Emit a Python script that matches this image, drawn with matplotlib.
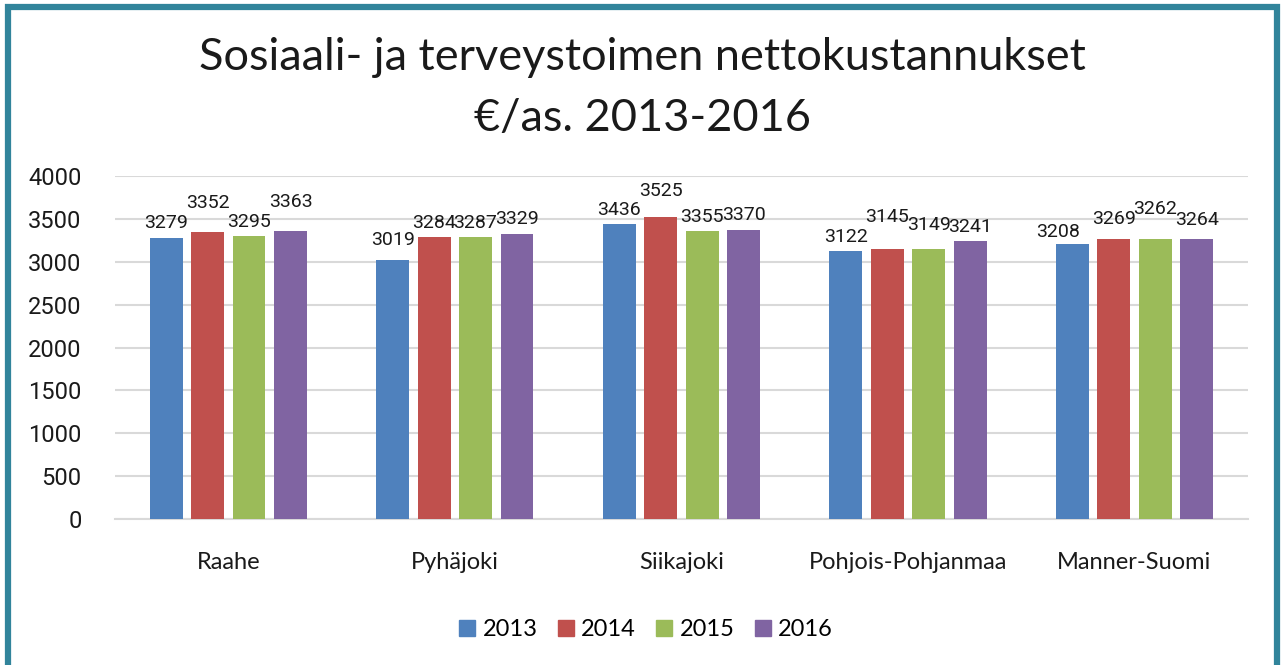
#!/usr/bin/env python3
"""Sosiaali- ja terveystoimen nettokustannukset, grouped bars per area."""

import numpy as np
import matplotlib
matplotlib.use('Agg')
import matplotlib.pyplot as plt
from matplotlib.lines import Line2D
from matplotlib.patches import Rectangle

# data
areas = ['Raahe', 'Pyhäjoki', 'Siikajoki', 'Pohjois-Pohjanmaa', 'Manner-Suomi']
years = ['2013', '2014', '2015', '2016']
v2013 = [3279, 3019, 3436, 3122, 3208]
v2014 = [3352, 3284, 3525, 3145, 3269]
v2015 = [3295, 3287, 3355, 3149, 3262]
v2016 = [3363, 3329, 3370, 3241, 3264]
series = [v2013, v2014, v2015, v2016]

COLORS = ['#4F81BD', '#C0504D', '#9BBB59', '#8064A2']
GRID = '#D9D9D9'
BORDER = '#31849B'

# Excel-ish label staggering (extra lift in points, per year then per area)
lift = [
    [0, 4, 0, 0, -2],
    [10, 0, 8, 13, 4],
    [0, 0, 0, 7, 11],
    [10, 0, 0, 0, 3],
]
shift_x = [
    [0, 0, 0, 0, -10],
    [0, 0, 0, 0, 0],
    [0, 0, 0, 0, 0],
    [0, 0, 0, 0, 0],
]

TXT = ['Lato', 'DejaVu Sans']
NUM = ['Roboto', 'DejaVu Sans']

fig = plt.figure(figsize=(12.85, 6.65), dpi=100)
ax = fig.add_axes([0.0895, 0.2195, 0.8815, 0.5158])

x = np.arange(len(areas))
step = 0.183
width = 0.145
for i, (vals, col) in enumerate(zip(series, COLORS)):
    xs = x + (i - 1.5) * step
    ax.bar(xs, vals, width=width, color=col, zorder=3)
    for j, (xx, v) in enumerate(zip(xs, vals)):
        ax.annotate(str(v), (xx, v), xytext=(shift_x[i][j], 4 + lift[i][j]),
                    textcoords='offset points', ha='center', va='bottom',
                    fontsize=14, family=NUM, color='#1a1a1a', zorder=4)

ax.set_xlim(-0.5, len(areas) - 0.5)
ax.set_ylim(0, 4000)
ax.set_yticks(np.arange(0, 4001, 500))
ax.yaxis.grid(True, color=GRID, linewidth=1.5, zorder=0)
ax.set_axisbelow(True)
for s in ['top', 'right', 'left']:
    ax.spines[s].set_visible(False)
ax.spines['bottom'].set_color(GRID)
ax.spines['bottom'].set_linewidth(1.5)
ax.tick_params(axis='both', length=0)
ax.tick_params(axis='y', pad=24)
ax.tick_params(axis='x', pad=24)
ax.set_xticks(x)
ax.set_xticklabels(areas, fontsize=17, family=TXT, color='#1a1a1a')
for lab in ax.get_yticklabels():
    lab.set_fontsize(17)
    lab.set_family(NUM)
    lab.set_color('#1a1a1a')

fig.text(0.5, 0.868, 'Sosiaali- ja terveystoimen nettokustannukset\n€/as. 2013-2016',
         ha='center', va='center', fontsize=32.5, family=TXT, color='#1a1a1a',
         linespacing=1.6)

handles = [Line2D([0], [0], marker='s', linestyle='none', markersize=11,
                  markerfacecolor=c, markeredgecolor=c, label=y)
           for c, y in zip(COLORS, years)]
leg = fig.legend(handles=handles, loc='center', bbox_to_anchor=(0.5, 0.053),
                 ncol=4, frameon=False, handletextpad=0.0, columnspacing=0.55,
                 handlelength=1.3, prop={'family': TXT, 'size': 17})

# teal frame (no bottom edge visible)
fig.patches.append(Rectangle((7.5 / 1285, -0.05), (1277 - 7.5) / 1285, 1.05 - 6.5 / 665,
                             transform=fig.transFigure, fill=False,
                             edgecolor=BORDER, linewidth=4.5))

fig.savefig('out.png', dpi=100, facecolor='white')
